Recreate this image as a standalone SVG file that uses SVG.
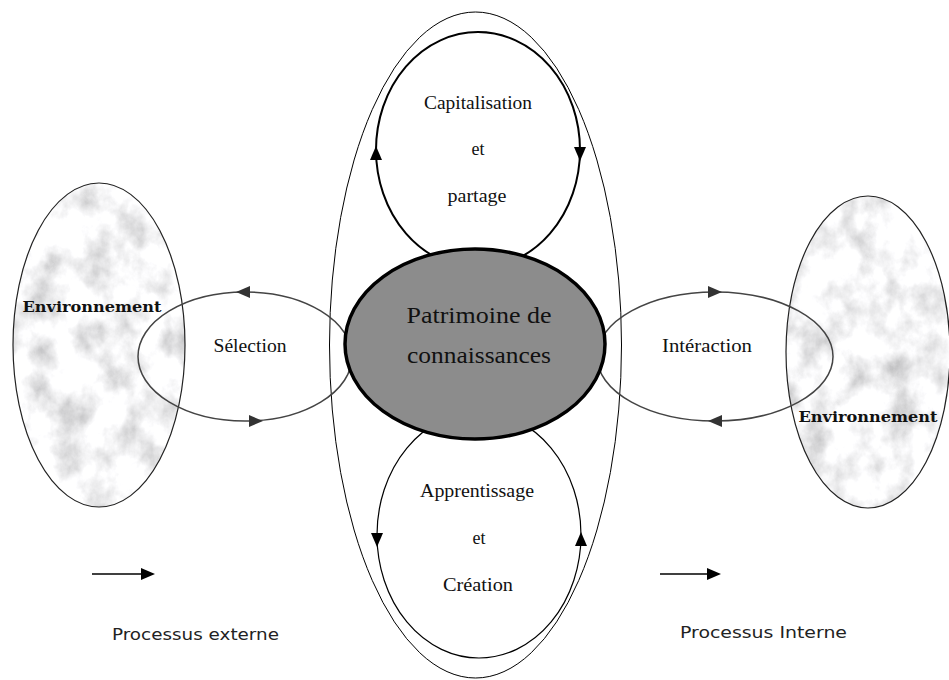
<svg xmlns="http://www.w3.org/2000/svg" width="949" height="680" viewBox="0 0 949 680">
<style>
.serif{font-family:"Liberation Serif","DejaVu Serif",serif;fill:#111;text-anchor:middle}
.lbl{font-size:18px}
.env{font-family:"DejaVu Serif","Liberation Serif",serif;font-size:15px;font-weight:bold;fill:#111;text-anchor:middle}
.sans{font-family:"DejaVu Sans","Liberation Sans",sans-serif;font-size:16.5px;fill:#222}
.loop{fill:none;stroke:#444;stroke-width:1.5}
.heavy{fill:none;stroke:#000;stroke-width:2}
.thin{fill:none;stroke:#000;stroke-width:1.2}
</style>
<defs>
<filter id="marble" x="0" y="0" width="1" height="1">
<feTurbulence type="fractalNoise" baseFrequency="0.035 0.028" numOctaves="5" seed="11" result="t"/>
<feColorMatrix in="t" type="matrix" values="-1.0 0 0 0 1.42  -1.0 0 0 0 1.42  -1.0 0 0 0 1.43  0 0 0 0 1" result="c"/>
<feComposite in="c" in2="SourceGraphic" operator="in"/>
</filter>
<path id="tri" d="M0,0 L-14,-6 L-14,6 Z"/>
</defs>

<g id="outer">
<ellipse cx="475.5" cy="345" rx="146" ry="333" fill="none" stroke="#000" stroke-width="1"/>
</g>

<g id="env-left">
<ellipse cx="99" cy="345" rx="86" ry="162" fill="#fff" filter="url(#marble)"/>
<ellipse cx="99" cy="345" rx="86" ry="162" fill="none" stroke="#222" stroke-width="1.2"/>
<text class="env" x="92" y="312" textLength="139" lengthAdjust="spacingAndGlyphs">Environnement</text>
</g>

<g id="env-right">
<ellipse cx="868" cy="352" rx="82" ry="156" fill="#fff" filter="url(#marble)"/>
<ellipse cx="868" cy="352" rx="82" ry="156" fill="none" stroke="#222" stroke-width="1.2"/>
<text class="env" x="868" y="422" textLength="139" lengthAdjust="spacingAndGlyphs">Environnement</text>
</g>

<g id="connectors">
<ellipse class="loop" cx="245" cy="356.5" rx="107" ry="64.5"/>
<use href="#tri" fill="#333" transform="translate(236,292) rotate(180)"/>
<use href="#tri" fill="#333" transform="translate(263,421)"/>
<ellipse class="loop" cx="715" cy="356.5" rx="118" ry="64.5"/>
<use href="#tri" fill="#333" transform="translate(722,292)"/>
<use href="#tri" fill="#333" transform="translate(708,421) rotate(180)"/>
<ellipse class="heavy" cx="478" cy="150" rx="102" ry="118"/>
<use href="#tri" fill="#000" transform="translate(376,146) rotate(-90)"/>
<use href="#tri" fill="#000" transform="translate(580,161) rotate(90)"/>
<ellipse class="thin" cx="479" cy="535" rx="102" ry="123"/>
<use href="#tri" fill="#000" transform="translate(377,547) rotate(90)"/>
<use href="#tri" fill="#000" transform="translate(581,532) rotate(-90)"/>
<line x1="92" y1="574" x2="142" y2="574" stroke="#000" stroke-width="1.5"/>
<use href="#tri" fill="#000" transform="translate(155,574)"/>
<line x1="660" y1="574" x2="708" y2="574" stroke="#000" stroke-width="1.5"/>
<use href="#tri" fill="#000" transform="translate(721,574)"/>
</g>

<g id="patrimoine">
<ellipse cx="475" cy="344" rx="130" ry="95" fill="#8c8c8c" stroke="#000" stroke-width="3.5"/>
<text class="serif" x="479" y="323" font-size="24" fill="#222" textLength="145" lengthAdjust="spacingAndGlyphs">Patrimoine de</text>
<text class="serif" x="479" y="363" font-size="24" fill="#222" textLength="144" lengthAdjust="spacingAndGlyphs">connaissances</text>
</g>

<g id="capitalisation">
<text class="serif lbl" x="478" y="109" textLength="108" lengthAdjust="spacingAndGlyphs">Capitalisation</text>
<text class="serif lbl" x="478" y="155">et</text>
<text class="serif lbl" x="477" y="202" textLength="59" lengthAdjust="spacingAndGlyphs">partage</text>
</g>

<g id="apprentissage">
<text class="serif lbl" x="477" y="497" textLength="114" lengthAdjust="spacingAndGlyphs">Apprentissage</text>
<text class="serif lbl" x="479" y="544">et</text>
<text class="serif lbl" x="478" y="591" textLength="70" lengthAdjust="spacingAndGlyphs">Création</text>
</g>

<g id="selection">
<text class="serif lbl" x="250" y="352" textLength="73" lengthAdjust="spacingAndGlyphs">Sélection</text>
</g>

<g id="interaction">
<text class="serif lbl" x="707" y="352" textLength="90" lengthAdjust="spacingAndGlyphs">Intéraction</text>
</g>

<g id="legend">
<text class="sans" x="112" y="640" textLength="167" lengthAdjust="spacingAndGlyphs">Processus externe</text>
<text class="sans" x="680" y="638" textLength="167" lengthAdjust="spacingAndGlyphs">Processus Interne</text>
</g>
</svg>
